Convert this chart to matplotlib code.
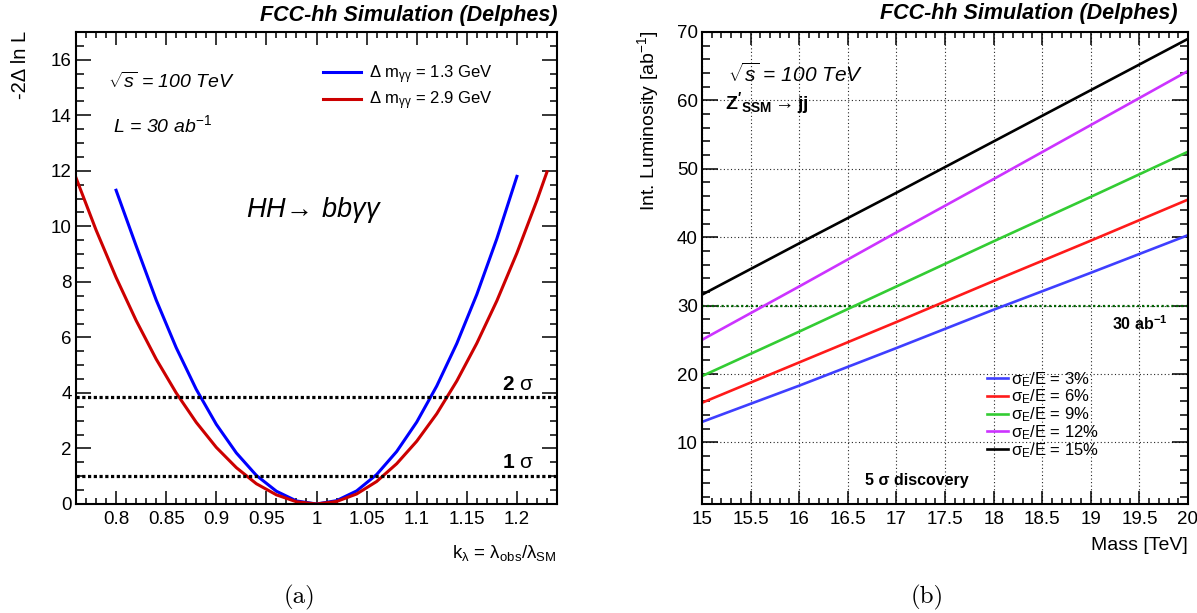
import matplotlib
matplotlib.use("Agg")
import matplotlib.pyplot as plt
from matplotlib.ticker import MultipleLocator, FuncFormatter

plt.rcParams["font.family"] = ["Liberation Sans", "DejaVu Sans"]
plt.rcParams["mathtext.fontset"] = "custom"
plt.rcParams["mathtext.rm"] = "Liberation Sans"
plt.rcParams["mathtext.it"] = "Liberation Sans:italic"
plt.rcParams["mathtext.bf"] = "Liberation Sans:bold"
plt.rcParams["mathtext.default"] = "rm"

# (a) likelihood scan vs k_lambda
k_red = [0.76, 0.78, 0.80, 0.82, 0.84, 0.86, 0.88, 0.90, 0.92, 0.94, 0.96, 0.98,
         1.00, 1.02, 1.04, 1.06, 1.08, 1.10, 1.12, 1.14, 1.16, 1.18, 1.20, 1.22, 1.23]
nll_red = [11.75, 9.87, 8.16, 6.61, 5.22, 4.00, 2.94, 2.04, 1.31, 0.73, 0.33, 0.08,
           0.00, 0.09, 0.36, 0.81, 1.45, 2.26, 3.25, 4.43, 5.79, 7.32, 9.04, 10.94, 11.96]
k_blue = [0.80, 0.82, 0.84, 0.86, 0.88, 0.90, 0.92, 0.94, 0.96, 0.98, 1.00,
          1.02, 1.04, 1.06, 1.08, 1.10, 1.12, 1.14, 1.16, 1.18, 1.20]
nll_blue = [11.3, 9.30, 7.35, 5.63, 4.13, 2.87, 1.84, 1.03, 0.46, 0.11, 0.00,
            0.12, 0.47, 1.06, 1.89, 2.95, 4.25, 5.78, 7.55, 9.56, 11.8]
labels_a = [r"Δ m$_{\mathrm{γγ}}$ = 1.3 GeV", r"Δ m$_{\mathrm{γγ}}$ = 2.9 GeV"]
sigma_levels = [1.0, 3.84]

# (b) 5 sigma discovery luminosity vs Z' mass
mass = [15, 16, 17, 18, 19, 20]
lumi = {
    "3%": [13.0, 18.3, 23.8, 29.4, 34.8, 40.3],
    "6%": [15.8, 21.7, 27.6, 33.6, 39.5, 45.5],
    "9%": [19.7, 26.2, 32.8, 39.4, 45.9, 52.5],
    "12%": [25.0, 32.8, 40.7, 48.5, 56.4, 64.3],
    "15%": [31.6, 39.1, 46.5, 54.0, 61.5, 69.0],
}
colors_b = ["#3f3fff", "#ff1a1a", "#33cc33", "#cc33ff", "black"]
lumi_target = 30

W, H = 1197, 613
fig = plt.figure(figsize=(W / 100, H / 100), dpi=100)
ax1 = fig.add_axes([76 / W, 1 - 504 / H, 481 / W, 472 / H])
ax2 = fig.add_axes([702 / W, 1 - 504 / H, 486 / W, 472 / H])


def root_style(ax, xmaj, xmin, ymaj, ymin, ylen):
    ax.xaxis.set_major_locator(MultipleLocator(xmaj))
    ax.xaxis.set_minor_locator(MultipleLocator(xmin))
    ax.yaxis.set_major_locator(MultipleLocator(ymaj))
    ax.yaxis.set_minor_locator(MultipleLocator(ymin))
    ax.xaxis.set_major_formatter(FuncFormatter(lambda v, p: "%g" % round(v, 3)))
    ax.yaxis.set_major_formatter(FuncFormatter(lambda v, p: "%g" % round(v, 3)))
    ax.tick_params(which="both", direction="in", top=True, right=True,
                   width=1.1, labelsize=13.5)
    ax.tick_params(axis="x", which="major", length=9.4, pad=5)
    ax.tick_params(axis="x", which="minor", length=4.6)
    ax.tick_params(axis="y", which="major", length=ylen, pad=3)
    ax.tick_params(axis="y", which="minor", length=ylen / 2)
    for s in ax.spines.values():
        s.set_linewidth(1.5)


# ---- panel (a)
ax1.plot(k_blue, nll_blue, color="#0000ff", lw=2.2, label=labels_a[0])
ax1.plot(k_red, nll_red, color="#cc0000", lw=2.2, label=labels_a[1])
for lv in sigma_levels:
    ax1.axhline(lv, color="black", lw=2.3, ls=(0, (1, 0.8)))
ax1.set_xlim(0.76, 1.24)
ax1.set_ylim(0, 17)
root_style(ax1, 0.05, 0.01, 2, 0.5, 10.8)

ax1.legend(loc="upper left", bbox_to_anchor=(323 / W, 1 - 63 / H),
           bbox_transform=fig.transFigure, frameon=False, fontsize=12,
           handlelength=2.3, handletextpad=0.45, borderpad=0, borderaxespad=0,
           labelspacing=0.25)

fig.text(108 / W, 1 - 82 / H, r"$\sqrt{\mathit{s}}$ = 100 TeV",
         fontsize=14, style="italic", va="center")
fig.text(113 / W, 1 - 125 / H, r"L = 30 ab$^{\mathit{-1}}$",
         fontsize=14, style="italic", va="center")
fig.text(246 / W, 1 - 210 / H,
         r"$\mathit{HH}\!\rightarrow\,\mathit{bb}\mathit{γγ}$",
         fontsize=19.5, va="center")
fig.text(502 / W, 1 - 384 / H, r"$\mathbf{2}$ σ", fontsize=15, va="center")
fig.text(502 / W, 1 - 462 / H, r"$\mathbf{1}$ σ", fontsize=15, va="center")

fig.text(557 / W, 1 - 15 / H, "FCC-hh Simulation (Delphes)", fontsize=15.5,
         fontweight="bold", style="italic", ha="right", va="center")
fig.text(21 / W, 1 - 31 / H, "-2Δ ln L", fontsize=14.5, rotation=90,
         ha="center", va="top")
fig.text(557 / W, 1 - 553 / H, r"k$_{\mathrm{λ}}$ = λ$_{\mathrm{obs}}$/λ$_{\mathrm{SM}}$",
         fontsize=13.5, ha="right", va="center")
fig.text(300 / W, 1 - 597 / H, "(a)", fontname="cmr10", fontsize=18,
         ha="center", va="center")

# ---- panel (b)
ax2.grid(True, which="major", color="0.15", lw=0.8, ls=(0, (1, 2.2)))
ax2.axhline(lumi_target, color="#006400", lw=1.6, ls=(0, (1, 1.2)))
for (res, vals), c in zip(lumi.items(), colors_b):
    ax2.plot(mass, vals, color=c, lw=1.9,
             label=r"σ$_{\mathrm{E}}$/E = " + res)
ax2.set_xlim(15, 20)
ax2.set_ylim(1, 70)
root_style(ax2, 0.5, 0.1, 10, 2, 11.5)

ax2.legend(loc="upper left", bbox_to_anchor=(987 / W, 1 - 370 / H),
           bbox_transform=fig.transFigure, frameon=False, fontsize=12,
           handlelength=1.25, handletextpad=0.2, borderpad=0, borderaxespad=0,
           labelspacing=-0.06)

fig.text(728 / W, 1 - 74 / H, r"$\sqrt{\mathit{s}}$ = 100 TeV",
         fontsize=15, style="italic", va="center")
fig.text(725 / W, 1 - 103 / H, r"$\mathbf{Z'_{SSM}}\rightarrow\mathbf{jj}$",
         fontsize=14, va="center")
fig.text(1112 / W, 1 - 324 / H, r"$\mathbf{30\ ab^{-1}}$", fontsize=11.5,
         va="center")
fig.text(865 / W, 1 - 480 / H, "5 σ discovery", fontsize=11.5,
         fontweight="bold", va="center")

fig.text(1177 / W, 1 - 14 / H, "FCC-hh Simulation (Delphes)", fontsize=15.5,
         fontweight="bold", style="italic", ha="right", va="center")
fig.text(648 / W, 1 - 31 / H, r"Int. Luminosity [ab$^{\mathrm{-1}}$]",
         fontsize=14, rotation=90, ha="center", va="top")
fig.text(1188 / W, 1 - 545 / H, "Mass [TeV]", fontsize=14, ha="right",
         va="center")
fig.text(927 / W, 1 - 597 / H, "(b)", fontname="cmr10", fontsize=18,
         ha="center", va="center")

fig.savefig("out.png", dpi=100)
